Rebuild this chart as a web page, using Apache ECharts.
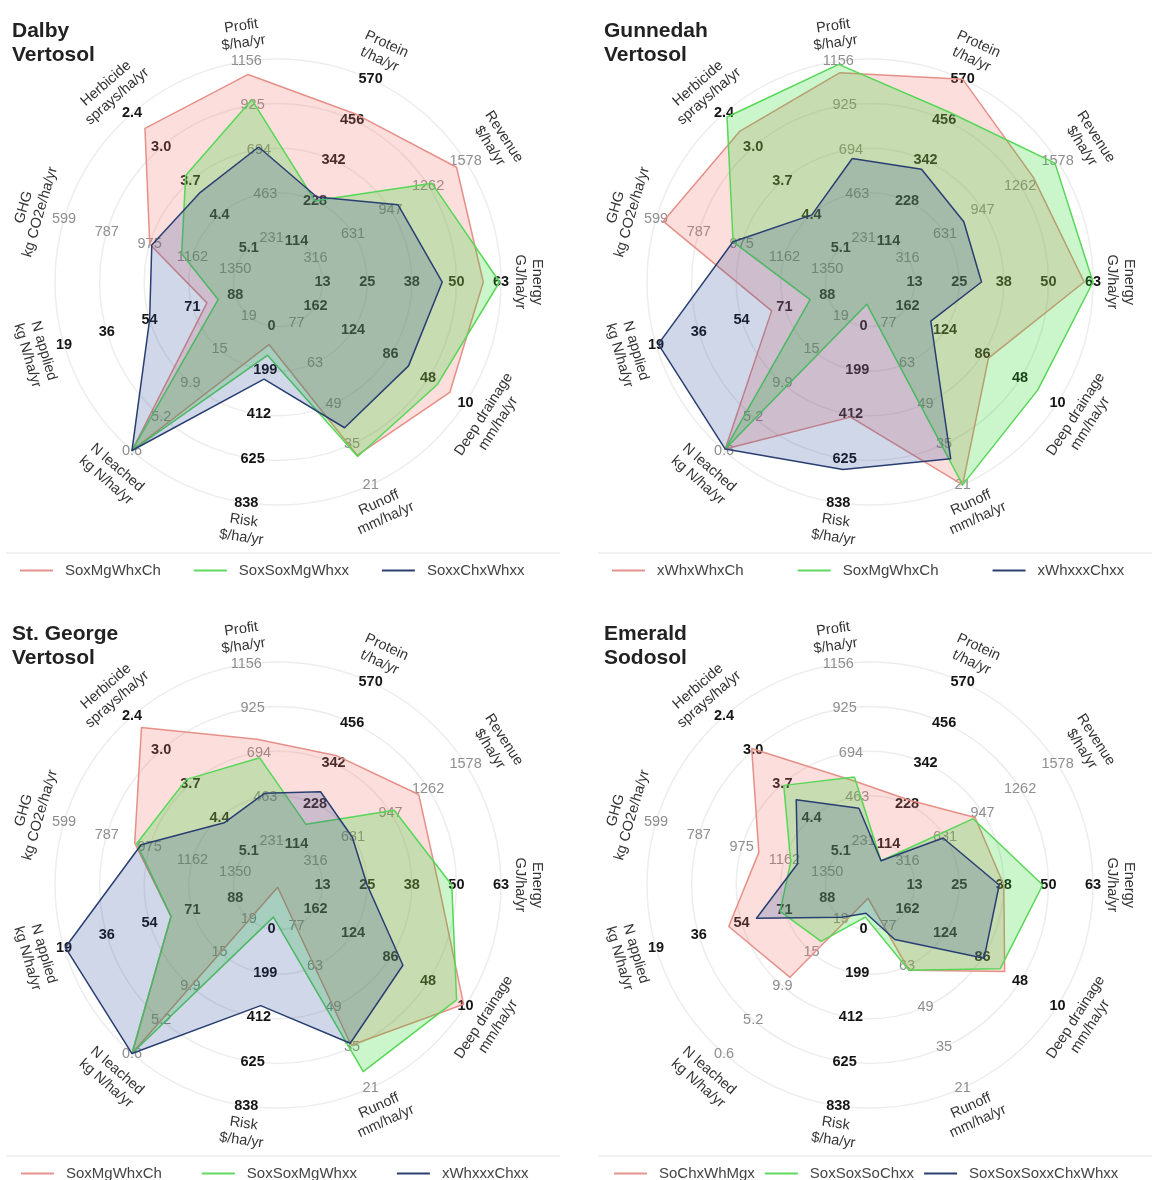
<!DOCTYPE html>
<html lang="en">
<head>
<meta charset="UTF-8">
<title>Cropping systems - radar</title>
<script src="https://cdn.jsdelivr.net/npm/echarts@6/dist/echarts.min.js"></script>
<style>
  html, body { margin: 0; padding: 0; background: #fff; }
  #main { width: 1160px; height: 1180px; }
</style>
</head>
<body>
<div id="main"></div>
<script>
// axes, clockwise from the top
var axisNames = ['Profit\n$/ha/yr', 'Protein\nt/ha/yr', 'Revenue\n$/ha/yr', 'Energy\nGJ/ha/yr',
  'Deep drainage\nmm/ha/yr', 'Runoff\nmm/ha/yr', 'Risk\n$/ha/yr', 'N leached\nkg N/ha/yr',
  'N applied\nkg N/ha/yr', 'GHG\nkg CO2e/ha/yr', 'Herbicide\nsprays/ha/yr'];

// ring 1..5 labels of each axis
var profitTicks = ['231', '463', '694', '925', '1156'];
var proteinTicks = ['114', '228', '342', '456', '570'];
var revenueTicks = ['316', '631', '947', '1262', '1578'];
var energyTicks = ['13', '25', '38', '50', '63'];
var drainageTicks = ['162', '124', '86', '48', '10'];
var runoffTicks = ['77', '63', '49', '35', '21'];
var riskTicks = ['0', '199', '412', '625', '838'];
var nLeachedTicks = ['19', '15', '9.9', '5.2', '0.6'];
var nAppliedTicks = ['88', '71', '54', '36', '19'];
var ghgTicks = ['1350', '1162', '975', '787', '599'];
var herbicideTicks = ['5.1', '4.4', '3.7', '3.0', '2.4'];
var tickLabels = [profitTicks, proteinTicks, revenueTicks, energyTicks, drainageTicks, runoffTicks,
  riskTicks, nLeachedTicks, nAppliedTicks, ghgTicks, herbicideTicks];

// value at the centre and at the outer ring (outer < centre means "less is better")
var axisCentre = [0, 0, 0, 0, 200, 91, -227, 23.6, 105.25, 1537.75, 5.775];
var axisOuter = [1156, 570, 1578, 63, 10, 21, 838, 0.6, 19, 599, 2.4];
var tickGrey = [true, false, true, false, false, true, false, true, false, true, false];

var siteTitles = ['Dalby\nVertosol', 'Gunnedah\nVertosol', 'St. George\nVertosol', 'Emerald\nSodosol'];

// Profit, Protein, Revenue, Energy, Drainage, Runoff, Risk, N leached, N applied, GHG, Herbicide
var dalbyNames = ['SoxMgWhxCh', 'SoxSoxMgWhxx', 'SoxxChxWhxx'];
var dalbyA = [1087, 473, 1502, 58.0, 26, 31.2, 75, 0.6, 76.6, 975, 2.70];
var dalbyB = [955, 228, 1294, 62.6, 38.5, 30.8, 127, 0.6, 81.1, 1115, 3.64];
var dalbyC = [707, 239, 1010, 46.4, 67.8, 40.7, 242, 0.6, 53.5, 984, 3.98];

var gunnedahNames = ['xWhxWhxCh', 'SoxMgWhxCh', 'xWhxxxChxx'];
var gunnedahA = [1096, 570, 1373, 60.5, 80, 21, 425, 0.8, 65.6, 631, 2.76];
var gunnedahB = [1140, 479, 1556, 63, 30, 21, -120, 0.8, 81.1, 937, 2.47];
var gunnedahC = [647, 317, 789, 31.5, 138.4, 30, 678, 0.8, 19.9, 937, 4.43];

var stGeorgeNames = ['SoxMgWhxCh', 'SoxSoxMgWhxx', 'xWhxxxChxx'];
var stGeorgeA = [763, 363, 1184, 45.4, 12, 35.7, -216, 0.6, 62.1, 909, 2.62];
var stGeorgeB = [666, 171, 978, 49.1, 19.1, 26.6, -72, 0.6, 62.1, 918, 3.66];
var stGeorgeC = [481, 262, 625, 25.2, 73.5, 36.4, 355, 0.6, 19.5, 937, 4.53];

var emeraldNames = ['SoChxWhMgx', 'SoxSoxSoChxx', 'SoxSoxSoxxChxWhxx'];
var emeraldA = [543, 239, 884, 37.8, 63.6, 61.6, -163, 11.0, 48.3, 1050, 3.04];
var emeraldB = [566, 68, 868, 48.8, 68.1, 61.6, -72, 15.9, 69.0, 1190, 3.78];
var emeraldC = [402, 68, 615, 36.5, 84.5, 72.2, -91, 19.2, 59.5, 1220, 4.07];

var sites = [
  { title: siteTitles[0], names: dalbyNames, values: [dalbyA, dalbyB, dalbyC] },
  { title: siteTitles[1], names: gunnedahNames, values: [gunnedahA, gunnedahB, gunnedahC] },
  { title: siteTitles[2], names: stGeorgeNames, values: [stGeorgeA, stGeorgeB, stGeorgeC] },
  { title: siteTitles[3], names: emeraldNames, values: [emeraldA, emeraldB, emeraldC] }
];

var lineColors = ['#e4948d', '#5fd85f', '#2a3f6e'];
var fillColors = ['rgba(242,118,108,0.33)', 'rgba(30,212,30,0.33)', 'rgba(35,65,145,0.3)'];

var font = "'Liberation Sans', Arial, sans-serif";
var centres = [[278, 282], [870, 282], [278, 885], [870, 885]];
var legendLeft = [15, 607, 16, 609];
var legendGap = [33, 54, 40, 10];
var R = 223;
var startAngle = 98.18;

// echarts goes anticlockwise, so walk the axes backwards after Profit
var ord = [0, 10, 9, 8, 7, 6, 5, 4, 3, 2, 1];

function flipped(i) { return axisOuter[i] < axisCentre[i]; }

function makeIndicators() {
  return ord.map(function (ax, k) {
    var phi = startAngle + k * 360 / ord.length;
    var rot = phi - 90;
    rot = ((rot % 360) + 540) % 360 - 180;
    if (rot > 90.5) rot -= 180;
    if (rot < -90.5) rot += 180;
    var lo = flipped(ax) ? -axisCentre[ax] : axisCentre[ax];
    var hi = flipped(ax) ? -axisOuter[ax] : axisOuter[ax];
    return {
      name: axisNames[ax],
      min: lo,
      max: hi,
      nameRotate: rot,
      axisLabel: {
        color: tickGrey[ax] ? '#8e8e8e' : '#151515',
        fontWeight: tickGrey[ax] ? 'normal' : 'bold',
        formatter: function (v) {
          var n = Math.round((v - lo) / (hi - lo) * 5);
          return n > 0 ? tickLabels[ax][n - 1] : '';
        }
      }
    };
  });
}

function toRadar(vals) {
  return ord.map(function (ax) { return flipped(ax) ? -vals[ax] : vals[ax]; });
}

var radars = [], series = [], legends = [], titles = [], graphics = [];
sites.forEach(function (site, p) {
  var cx = centres[p][0], cy = centres[p][1];
  radars.push({
    center: [cx, cy],
    radius: R,
    startAngle: startAngle,
    shape: 'circle',
    splitNumber: 5,
    nameGap: 9,
    indicator: makeIndicators(),
    axisName: { color: '#333', fontSize: 14.5, lineHeight: 17, fontFamily: font },
    splitLine: { lineStyle: { color: '#ededed', width: 1.5 } },
    splitArea: { show: false },
    axisLine: { show: false },
    axisTick: { show: false },
    axisLabel: {
      show: true, margin: 0, align: 'center', verticalAlign: 'middle',
      fontSize: 14.5, fontFamily: font, showMinLabel: false
    }
  });
  var legendData = [];
  site.names.forEach(function (nm, i) {
    var key = p + '|' + nm;
    series.push({
      type: 'radar',
      radarIndex: p,
      name: key,
      symbol: 'none',
      lineStyle: { color: lineColors[i], width: 1.5 },
      itemStyle: { color: lineColors[i] },
      areaStyle: { color: fillColors[i] },
      data: [{ name: key, value: toRadar(site.values[i]) }]
    });
    legendData.push({ name: key, icon: 'rect', itemStyle: { color: lineColors[i] } });
  });
  legends.push({
    data: legendData,
    left: legendLeft[p],
    top: cy + 276,
    itemWidth: 33,
    itemHeight: 2,
    itemGap: legendGap[p],
    selectedMode: false,
    formatter: function (n) { return n.split('|')[1]; },
    textStyle: { fontSize: 15, color: '#444', fontFamily: font, padding: [0, 0, 0, 7] }
  });
  titles.push({
    text: site.title,
    left: cx - 271,
    top: cy - 268,
    textStyle: { fontSize: 21, fontWeight: 'bold', color: '#222', lineHeight: 24, fontFamily: font }
  });
  graphics.push({
    type: 'line',
    shape: { x1: cx - 272, y1: cy + 271, x2: cx + 282, y2: cy + 271 },
    style: { stroke: '#eeeeee', lineWidth: 1.5 },
    silent: true
  });
});

var chart = echarts.init(document.getElementById('main'));
chart.setOption({
  backgroundColor: '#fff',
  animation: false,
  title: titles,
  legend: legends,
  radar: radars,
  series: series,
  graphic: graphics
});
</script>
</body>
</html>
